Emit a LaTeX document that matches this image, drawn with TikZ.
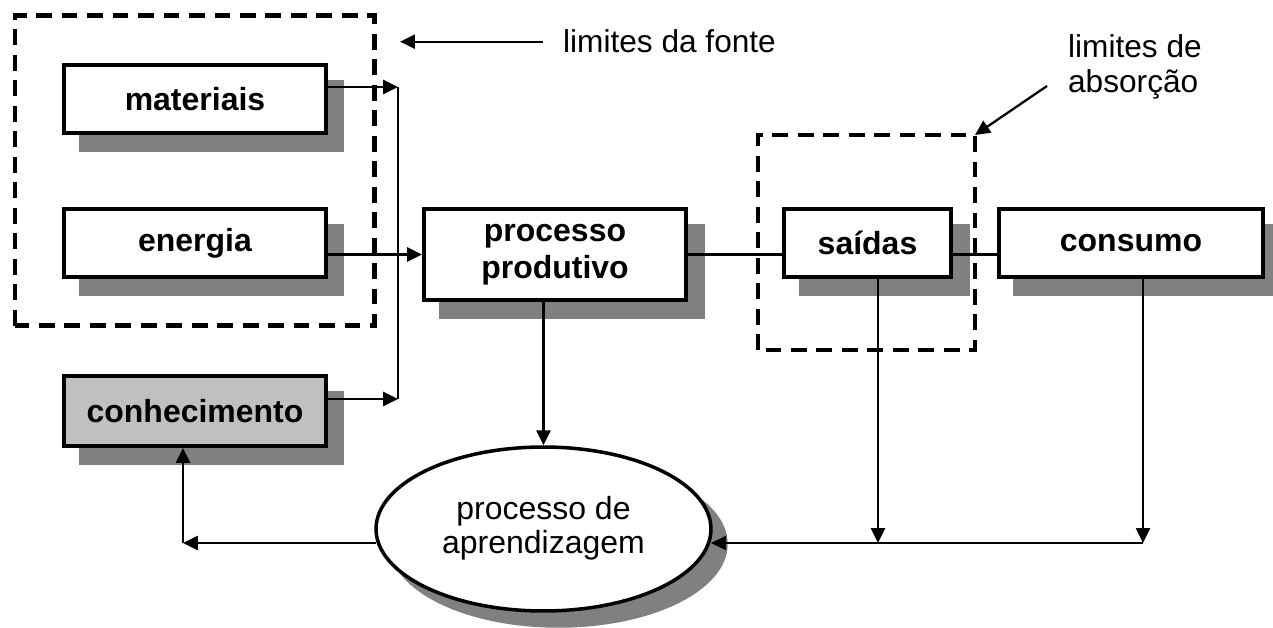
\documentclass[tikz,border=0pt]{standalone}
\usepackage{fontspec}
\setmainfont{Liberation Sans}
\usetikzlibrary{arrows.meta,shapes.geometric,shadows,positioning}
\definecolor{sombra}{HTML}{808080}
\definecolor{cinza}{HTML}{C0C0C0}

\begin{document}
\begin{tikzpicture}[x=0.02cm,y=-0.02cm,->,>={Triangle[length=8.5pt,width=8pt]},
		line width=1.3pt, node distance=2.88cm, inner sep=0pt]
		\tikzstyle{caixa}=[draw,rectangle,fill=white,line width=2.3pt,
			minimum width=5.24cm,minimum height=1.36cm,align=center,
			font=\bfseries\fontsize{18.2}{21}\selectfont,
			general shadow={fill=sombra,draw=sombra,line width=2.3pt,
				shadow xshift=0.33cm,shadow yshift=-0.34cm}]
		\tikzstyle{aprender}=[draw,ellipse,fill=white,line width=2pt,
			minimum width=6.7cm,minimum height=3.28cm,align=center,
			font=\fontsize{18.2}{19}\selectfont,
			general shadow={fill=sombra,draw=sombra,line width=2pt,
				shadow xshift=0.3cm,shadow yshift=-0.3cm}]
		\tikzstyle{limite}=[-,draw,line width=2.3pt,dash pattern=on 9pt off 5.5pt]
		\tikzstyle{rotulo}=[font=\fontsize{18}{20}\selectfont,align=left]

		\useasboundingbox (0,0) rectangle (1273,628);

		\node[caixa]					(materiais)		at (195,99)		{materiais};
		\node[caixa]					(energia)		[below of=materiais]	{energia};
		\node[caixa,fill=cinza,minimum height=1.4cm]	(conhecimento)	[below of=energia,node distance=3.36cm]	{conhecimento};
		\node[caixa,minimum height=1.82cm]	(processo)		at (555,254.5)	{processo\\produtivo};
		\node[caixa,minimum width=3.34cm]	(saidas)		at (867.5,243)	{saídas};
		\node[caixa,minimum width=5.28cm]	(consumo)		[right of=saidas,node distance=5.27cm]	{consumo};
		\node[aprender]					(aprendizagem)	at (543.5,529)	{processo de\\aprendizagem\\[-0.5cm]};

		\node[rotulo,anchor=base west]	(fonte)		at (562,53)		{limites da fonte};
		\node[rotulo,anchor=north west]	(absorcao)	at (1067,33)	{limites de\\absorção};

		\coordinate (fonte sw) at (15,325.5);
		\coordinate (fonte ne) at (374.5,15.5);
		\coordinate (saidas sw) at (758,350);
		\coordinate (saidas ne) at (975,135);
		\coordinate (fonte seta) at (400,41);
		\coordinate (absorcao seta) at (1047,86);
		\coordinate (barra cima) at (398,87);
		\coordinate (barra baixo) at (398,399);
		\coordinate (ret saidas) at (878,543);
		\coordinate (ret consumo) at (1143,543);
		\coordinate (ret conhecimento) at (183,543);

		\draw (materiais.east |- barra cima) -- (barra cima);
		\draw (conhecimento.east |- barra baixo) -- (barra baixo);
		\draw[-] (barra cima) -- (barra baixo);
		\draw (energia.east |- processo.west) -- (processo.west);
		\draw[-] (processo.east) -- (saidas.west |- processo.east);
		\draw[-] (saidas.east |- processo.east) -- (consumo.west |- processo.east);
		\draw (processo.south -| aprendizagem.north) -- (aprendizagem.north);
		\draw (saidas.south -| ret saidas) -- (ret saidas);
		\draw (consumo.south -| ret consumo) -- (ret consumo);
		\draw (ret consumo) -- (ret consumo -| aprendizagem.-4.75);
		\draw (ret conhecimento -| aprendizagem.184.75) -- (ret conhecimento);
		\draw (ret conhecimento) -- (conhecimento.south -| ret conhecimento);

		\draw[limite] (fonte sw) rectangle (fonte ne);
		\draw[limite] (saidas sw) rectangle (saidas ne);
		\draw[shorten <=0.38cm] (fonte.west) -- (fonte.west -| fonte seta);
		\draw (absorcao seta) -- (saidas ne);
\end{tikzpicture}
\end{document}
